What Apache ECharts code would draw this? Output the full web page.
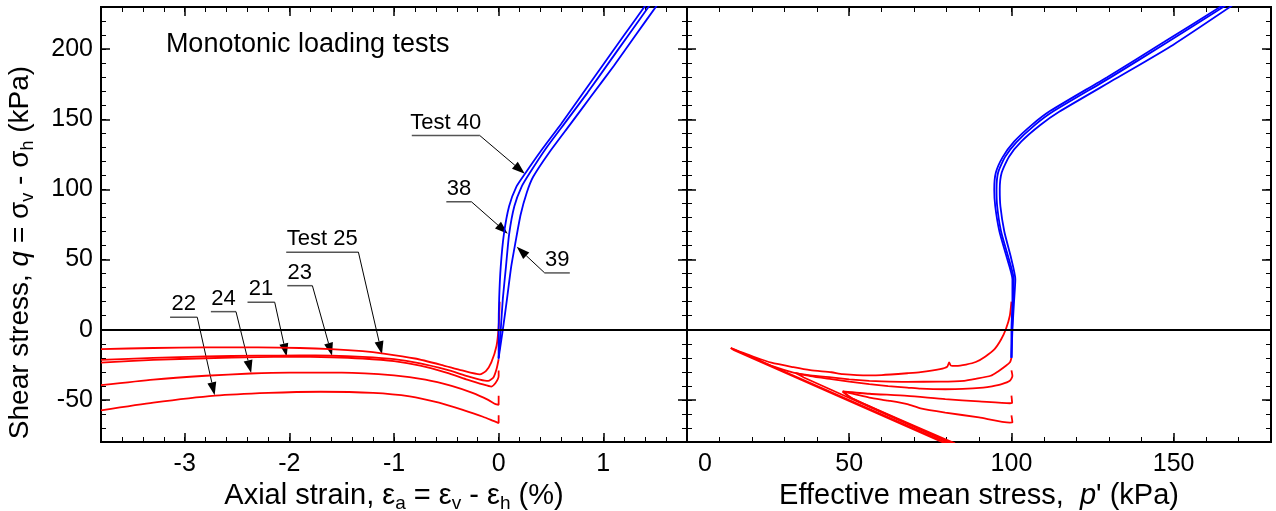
<!DOCTYPE html>
<html>
<head>
<meta charset="utf-8">
<script src="https://cdn.jsdelivr.net/npm/echarts@6/dist/echarts.min.js"></script>
<style>
html, body { margin: 0; padding: 0; background: #fff; }
#chart { width: 1276px; height: 511px; }
</style>
</head>
<body>
<div id="chart"></div>
<script>
// ---- left panel: axial strain (%) vs q (kPa) ----
// extension tests (red)
const strainTest25 = [[-3.8,-13.8],[-3.3,-13.0],[-2.8,-12.6],[-2.3,-12.6],[-1.9,-13.0],[-1.6,-13.8],[-1.3,-15.3],[-1.1,-17.0],[-0.8,-20.5],[-0.55,-25],[-0.35,-29],[-0.18,-31.8],[-0.12,-29.3],[-0.07,-23.3],[-0.02,-11.4],[0.0,2],[0.01,20]];
const strainTest23 = [[-3.8,-21.5],[-3.3,-20],[-2.8,-19],[-2.3,-18.5],[-1.9,-18.3],[-1.6,-18.5],[-1.3,-19.4],[-1.0,-21],[-0.75,-24],[-0.5,-28.5],[-0.3,-33],[-0.18,-35.5],[-0.1,-36.5],[-0.05,-34],[-0.02,-28],[0.0,-21]];
const strainTest21 = [[-3.8,-23.5],[-3.3,-21.5],[-2.8,-20.3],[-2.3,-19.5],[-2.0,-19.2],[-1.6,-19.6],[-1.3,-20.5],[-1.0,-22.3],[-0.75,-25.5],[-0.5,-30.5],[-0.3,-35.5],[-0.15,-39],[-0.07,-40.5],[-0.03,-38],[0.0,-33],[0.0,-29]];
const strainTest24 = [[-3.8,-39.5],[-3.3,-35.5],[-2.8,-32.8],[-2.37,-31.2],[-2.0,-30.6],[-1.5,-30.6],[-1.0,-32.5],[-0.7,-35.5],[-0.45,-40],[-0.25,-45],[-0.1,-50],[-0.03,-53],[0.0,-53.5],[0.0,-47]];
const strainTest22 = [[-3.8,-57.5],[-3.3,-52],[-2.71,-47],[-2.2,-45],[-1.7,-44.2],[-1.2,-45],[-0.85,-47.5],[-0.57,-52],[-0.35,-57],[-0.15,-62],[-0.05,-65],[0.0,-66.5],[0.0,-61]];
// compression tests (blue)
const strainTest40 = [[0,-21],[0,0],[0.005,22],[0.02,45],[0.05,68],[0.1,88],[0.17,102],[0.25,111],[0.4,127],[0.6,147],[0.8,168],[1.0,189],[1.2,210],[1.42,233]];
const strainTest38 = [[0,-20],[0.02,0],[0.04,22],[0.07,45],[0.1,68],[0.15,88],[0.22,102],[0.3,112],[0.45,129],[0.65,149],[0.85,169],[1.05,190],[1.25,211],[1.46,233]];
const strainTest39 = [[0,-20],[0.04,0],[0.08,22],[0.12,45],[0.16,62],[0.21,82],[0.27,98],[0.33,109],[0.48,126],[0.68,146],[0.88,166],[1.1,188],[1.3,209],[1.53,233]];

// ---- right panel: p' (kPa) vs q (kPa) ----
const pathTest25 = [[100,20],[99.5,10],[98.3,0.5],[96.8,-7],[94.8,-13.8],[92,-19],[89,-23],[86,-24.8],[83,-25.8],[81.3,-25.5],[80.8,-23.3],[80.2,-26.3],[78,-28],[72,-30.2],[67.9,-31],[60,-32.3],[56,-32.5],[48,-31.6],[44.5,-30.3],[38,-28.8],[32.8,-26.7],[26,-23.5],[21,-19.6],[13.5,-13],[80.3,-81]];
const pathTest23 = [[100,-20],[99.6,-23],[98.3,-25.7],[96,-29.5],[93.6,-32.8],[89,-35],[85.4,-36.4],[78,-37],[67.9,-37.1],[60,-36.8],[56.2,-36.4],[50,-35.3],[44.5,-34],[38,-32.5],[32.8,-30.5],[27,-26.5],[21.1,-20.9],[13.5,-13],[14.5,-14.6],[79.6,-81]];
const pathTest21 = [[100,-29],[100.3,-33],[99.5,-36.4],[97,-38.8],[94,-40.3],[91.3,-41.2],[85,-42.2],[79.6,-42.4],[72,-42],[67.9,-41.2],[62,-40.2],[56.2,-38.8],[50,-37],[44.5,-35.2],[38,-33],[33.4,-30.7],[36,-34],[81.3,-81]];
const pathTest24 = [[100,-47],[100.2,-52],[99.5,-52.4],[90,-51],[79.6,-49.5],[67.9,-47.1],[56.2,-45.6],[48,-44],[51,-49],[82.6,-81]];
const pathTest22 = [[100,-61],[100.3,-66],[99.5,-66.2],[90,-62.5],[79.6,-59],[72,-56],[67.9,-53],[62,-50.5],[56.2,-48.3],[48,-44],[50.5,-48.5],[82,-81.3]];
const pathTest40 = [[100,-20],[100,0],[100.3,20],[100.3,36],[98.5,52],[96.3,70],[95,88],[94.7,100],[95.2,112],[97.3,123],[100.8,134],[106.3,146],[112,156],[129.5,180],[147,205],[165,231]];
const pathTest38 = [[100,-20],[100.2,0],[100.5,20],[100.7,36],[99,52],[96.8,70],[95.6,88],[95.4,100],[95.9,112],[98,123],[101.5,133.5],[107,145.5],[112.8,155.5],[130.3,179.5],[147.8,204.5],[166,231]];
const pathTest39 = [[100,-20],[100.3,0],[100.8,20],[101.2,36],[99.8,52],[97.8,70],[96.6,88],[96.4,100],[97,112],[99.3,123.5],[103,134],[108.8,145.7],[114.7,155.3],[132.2,179],[149.8,203],[168,231]];

// axis ranges and tick labels
const strainRange = [-3.8, 1.8];
const strainTicks = [-3, -2, -1, 0, 1];
const pRange = [0, 180];
const pTicks = [0, 50, 100, 150];
const qRange = [-80, 230];
const qTicks = [-50, 0, 50, 100, 150, 200];

// labelled arrows on the left panel: text, underline [x1, x2, q], arrow tip, arrow from left end
const noteText = ['Test 40', '38', '39', 'Test 25', '23', '21', '24', '22'];
const noteLine = [[-0.83,-0.18,138.4],[-0.50,-0.26,91.2],[0.44,0.68,40.5],[-2.03,-1.34,55.3],[-2.02,-1.78,31.4],[-2.40,-2.14,19.6],[-2.75,-2.51,12.9],[-3.14,-2.88,8.9]];
const noteTip = [[0.25,111.2],[0.087,68.4],[0.173,59.1],[-1.115,-17.4],[-1.592,-18.6],[-2.026,-19],[-2.365,-30.9],[-2.714,-46.6]];
const noteFromLeft = [false, false, true, false, false, false, false, false];

const FONT = 'Liberation Sans, Arial, sans-serif';

function axisPair(dim, gridIndex, position, range, step, majors, extra) {
    let base = {
        type: 'value', gridIndex: gridIndex, position: position,
        min: range[0], max: range[1],
        axisLine: {show: true, onZero: false, lineStyle: {color: '#000', width: 2}},
        splitLine: {show: false}
    };
    let minor = Object.assign({}, base, {
        interval: step,
        axisTick: {show: true, inside: true, length: 5, lineStyle: {color: '#000', width: 1}},
        axisLabel: {show: false}
    });
    let major = Object.assign({}, base, {
        axisTick: {show: true, inside: true, length: 9, customValues: majors, lineStyle: {color: '#000', width: 1.5}},
        axisLabel: {show: false}
    }, extra || {});
    return [minor, major];
}

function titleRich(size) {
    return {
        t: {fontSize: size, fontFamily: FONT, color: '#000'},
        i: {fontSize: size, fontFamily: FONT, color: '#000', fontStyle: 'italic'},
        s: {fontSize: Math.round(size * 0.66), fontFamily: FONT, color: '#000', padding: [Math.round(size * 0.52), 0, 0, 0]}
    };
}

let xAxes = [].concat(
    axisPair('x', 0, 'bottom', strainRange, 0.2, strainTicks, {
        axisLabel: {show: true, customValues: strainTicks, fontSize: 25, fontFamily: FONT, color: '#000', margin: 10},
        name: '{t|Axial strain, ε}{s|a}{t| = ε}{s|v}{t| - ε}{s|h}{t| (%)}',
        nameLocation: 'middle', nameGap: 30,
        nameTextStyle: {rich: titleRich(29)}
    }),
    axisPair('x', 0, 'top', strainRange, 0.2, strainTicks),
    axisPair('x', 1, 'bottom', pRange, 10, pTicks, {
        axisLabel: {
            show: true, customValues: pTicks, fontSize: 25, fontFamily: FONT, color: '#000', margin: 10,
            formatter: function (v) { return v === 0 ? '{z|0}' : String(v); },
            rich: {z: {fontSize: 25, fontFamily: FONT, color: '#000', padding: [0, 0, 0, 36]}}
        },
        name: '{t|Effective mean stress,  }{i|p}{t|\' (kPa)}',
        nameLocation: 'middle', nameGap: 30,
        nameTextStyle: {rich: titleRich(29)}
    }),
    axisPair('x', 1, 'top', pRange, 10, pTicks)
);

let yAxes = [].concat(
    axisPair('y', 0, 'left', qRange, 10, qTicks, {
        axisLabel: {show: true, customValues: qTicks, fontSize: 25, fontFamily: FONT, color: '#000', margin: 8},
        name: '{t|Shear stress, }{i|q}{t| = σ}{s|v}{t| - σ}{s|h}{t| (kPa)}',
        nameLocation: 'middle', nameGap: 64, nameRotate: 90,
        nameTextStyle: {rich: titleRich(28), padding: [0, 56, 0, 0]}
    }),
    axisPair('y', 0, 'right', qRange, 10, qTicks),
    axisPair('y', 1, 'left', qRange, 10, qTicks),
    axisPair('y', 1, 'right', qRange, 10, qTicks)
);

function curve(data, color, grid) {
    return {
        type: 'line', data: data, xAxisIndex: grid * 4, yAxisIndex: grid * 4,
        showSymbol: false, smooth: 0.2, silent: true,
        lineStyle: {color: color, width: 1.8}, itemStyle: {color: color}
    };
}

let zeroLine = {
    silent: true, symbol: ['none', 'none'], label: {show: false},
    lineStyle: {color: '#000', width: 2, type: 'solid'},
    data: [{yAxis: 0}]
};

let series = [
    curve(strainTest25, '#ff0000', 0), curve(strainTest23, '#ff0000', 0), curve(strainTest21, '#ff0000', 0),
    curve(strainTest24, '#ff0000', 0), curve(strainTest22, '#ff0000', 0),
    curve(strainTest40, '#0000ff', 0), curve(strainTest38, '#0000ff', 0), curve(strainTest39, '#0000ff', 0),
    curve(pathTest25, '#ff0000', 1), curve(pathTest23, '#ff0000', 1), curve(pathTest21, '#ff0000', 1),
    curve(pathTest24, '#ff0000', 1), curve(pathTest22, '#ff0000', 1),
    curve(pathTest40, '#0000ff', 1), curve(pathTest38, '#0000ff', 1), curve(pathTest39, '#0000ff', 1)
];
series[0].markLine = zeroLine;
series[8].markLine = zeroLine;

let option = {
    animation: false,
    backgroundColor: '#fff',
    grid: [
        {left: 101, right: 589, top: 7, bottom: 69, outerBoundsMode: 'none', containLabel: false},
        {left: 687, right: 5, top: 7, bottom: 69, outerBoundsMode: 'none', containLabel: false}
    ],
    xAxis: xAxes,
    yAxis: yAxes,
    series: series
};

let chart = echarts.init(document.getElementById('chart'));
chart.setOption(option);

// annotations placed from data coordinates
function toPx(pt) {
    return chart.convertToPixel({xAxisIndex: 0, yAxisIndex: 0}, pt);
}
let graphics = [];
let title = toPx([-3.18, 203]);
graphics.push({
    type: 'text', x: title[0], y: title[1],
    style: {text: 'Monotonic loading tests', fontSize: 27, fontFamily: FONT, fill: '#000', align: 'left', verticalAlign: 'middle'}
});
for (let i = 0; i < noteText.length; i++) {
    let a = toPx([noteLine[i][0], noteLine[i][2]]);
    let b = toPx([noteLine[i][1], noteLine[i][2]]);
    let tip = toPx(noteTip[i]);
    let start = noteFromLeft[i] ? a : b;
    graphics.push({
        type: 'text', x: (a[0] + b[0]) / 2, y: a[1] - 2,
        style: {text: noteText[i], fontSize: 22, fontFamily: FONT, fill: '#000', align: 'center', verticalAlign: 'bottom'}
    });
    graphics.push({
        type: 'line', shape: {x1: a[0], y1: a[1], x2: b[0], y2: b[1]},
        style: {stroke: '#555', lineWidth: 1.5}
    });
    let dx = tip[0] - start[0], dy = tip[1] - start[1];
    let len = Math.sqrt(dx * dx + dy * dy);
    let ux = dx / len, uy = dy / len;
    let bx = tip[0] - ux * 13, by = tip[1] - uy * 13;
    graphics.push({
        type: 'line', shape: {x1: start[0], y1: start[1], x2: bx, y2: by},
        style: {stroke: '#000', lineWidth: 1}
    });
    graphics.push({
        type: 'polygon',
        shape: {points: [[tip[0], tip[1]], [bx - uy * 4.5, by + ux * 4.5], [bx + uy * 4.5, by - ux * 4.5]]},
        style: {fill: '#000'}
    });
}
chart.setOption({graphic: graphics});
</script>
</body>
</html>
